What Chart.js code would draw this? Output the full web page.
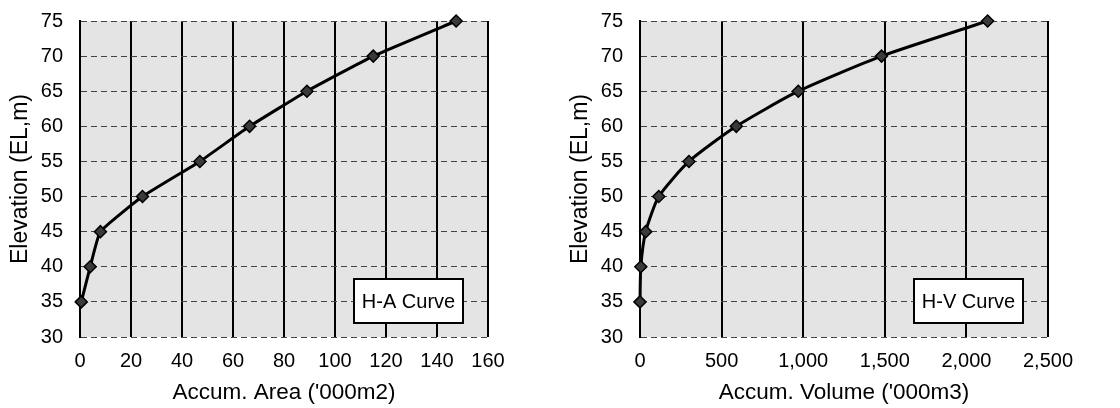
<!DOCTYPE html>
<html>
<head>
<meta charset="utf-8">
<script src="https://cdn.jsdelivr.net/npm/chart.js@4/dist/chart.umd.min.js"></script>
<style>
  body { margin: 0; background: #fff; }
  .wrap { display: flex; width: 1120px; height: 408px; }
  .box { position: relative; width: 560px; height: 408px; }
</style>
</head>
<body>
<div class="wrap">
  <div class="box"><canvas id="chartHA" width="560" height="408"></canvas></div>
  <div class="box"><canvas id="chartHV" width="560" height="408"></canvas></div>
</div>
<script>
const elevation = [35, 40, 45, 50, 55, 60, 65, 70, 75];
const accumArea = [0.5, 4, 8, 24.5, 47, 66.5, 89, 115, 147.5];
const accumVolume = [0, 5, 35, 115, 300, 590, 970, 1480, 2130];
const yTicks = [30, 75, 5];
const areaTicks = [0, 160, 20];
const volumeTicks = [0, 2500, 500];

Chart.defaults.font.family = "Liberation Sans";
Chart.defaults.color = "#000";

// grey plot background + boxed curve name
const plotDecor = {
  id: "plotDecor",
  beforeDraw(chart) {
    const a = chart.chartArea, ctx = chart.ctx;
    ctx.save();
    ctx.fillStyle = "#e4e4e4";
    ctx.fillRect(a.left, a.top, a.right - a.left, a.bottom - a.top);
    ctx.restore();
  },
  afterDraw(chart) {
    const a = chart.chartArea, ctx = chart.ctx;
    const w = 109, h = 44;
    const x = a.right - 25 - w, y = a.bottom - 14 - h;
    ctx.save();
    ctx.fillStyle = "#fff";
    ctx.fillRect(x, y, w, h);
    ctx.strokeStyle = "#000";
    ctx.lineWidth = 2;
    ctx.strokeRect(x, y, w, h);
    ctx.fillStyle = "#000";
    ctx.font = "20px 'Liberation Sans'";
    ctx.textAlign = "center";
    ctx.textBaseline = "middle";
    ctx.fillText(chart.data.datasets[0].label, x + w / 2, y + h / 2 + 1);
    ctx.restore();
  }
};

function makeChart(id, label, xs, xt, xTitle, tension, fmt) {
  const pts = xs.map((v, i) => ({ x: v, y: elevation[i] }));
  return new Chart(document.getElementById(id), {
    type: "scatter",
    data: {
      datasets: [{
        label: label,
        data: pts,
        showLine: true,
        clip: false,
        borderColor: "#000",
        borderWidth: 3,
        tension: tension,
        pointStyle: "rectRot",
        pointRadius: 6,
        pointBackgroundColor: "#3a3a3a",
        pointBorderColor: "#000",
        pointBorderWidth: 1.5,
      }],
    },
    options: {
      responsive: false,
      animation: false,
      layout: { padding: { left: 0, top: 21, right: 72, bottom: 0 } },
      plugins: { legend: { display: false }, tooltip: { enabled: false } },
      scales: {
        x: {
          type: "linear",
          min: xt[0], max: xt[1],
          ticks: { stepSize: xt[2], padding: 12, font: { size: 20 }, callback: fmt },
          grid: { color: "#000", lineWidth: 2, drawTicks: false },
          border: { display: false },
          title: { display: true, text: xTitle, font: { size: 22.5 }, padding: { top: 0, bottom: 2 } },
          afterFit(s) { s.height = 71; s.paddingLeft = 0; s.paddingRight = 0; },
        },
        y: {
          min: yTicks[0], max: yTicks[1],
          ticks: { stepSize: yTicks[2], padding: 17, font: { size: 20 } },
          grid: { color: "#444", lineWidth: 1, drawTicks: false },
          // border.dash dashes the horizontal grid lines in v4, axis line stays solid
          border: { display: true, color: "#000", width: 2, dash: [6, 4] },
          title: { display: true, text: "Elevation (EL,m)", font: { size: 23 }, padding: { top: 7, bottom: 0 } },
          afterFit(s) { s.width = 80; s.paddingTop = 0; s.paddingBottom = 0; },
        },
      },
    },
    plugins: [plotDecor],
  });
}

makeChart("chartHA", "H-A Curve", accumArea, areaTicks, "Accum. Area ('000m2)", 0.12);
makeChart("chartHV", "H-V Curve", accumVolume, volumeTicks, "Accum. Volume ('000m3)", 0.2,
  v => v.toLocaleString("en-US"));
</script>
</body>
</html>
